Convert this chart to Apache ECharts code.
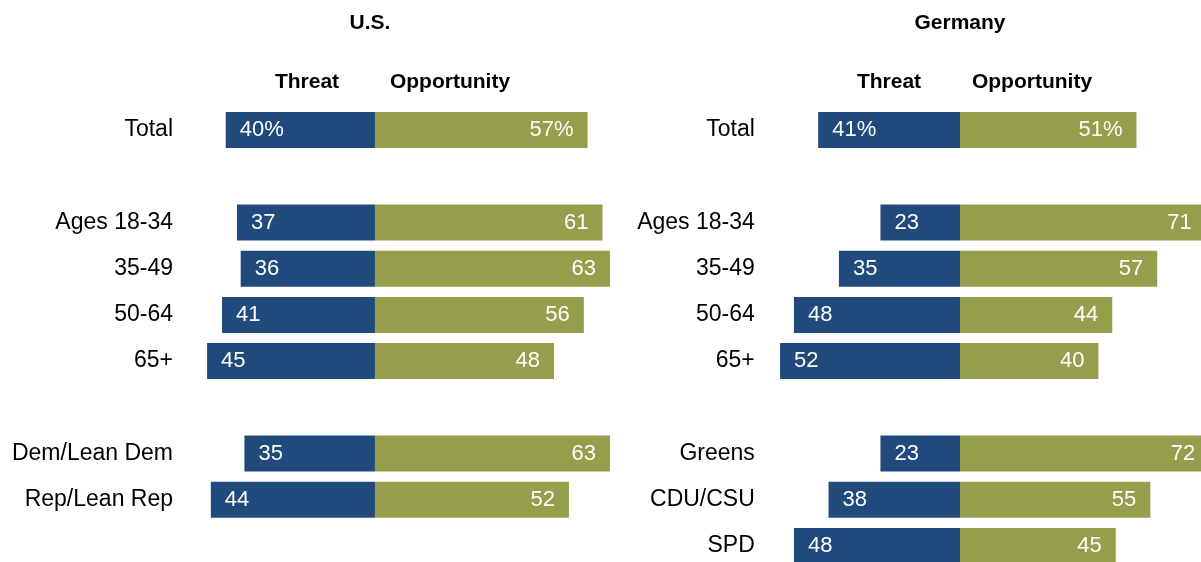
<!DOCTYPE html>
<html>
<head>
<meta charset="utf-8">
<script src="https://cdn.jsdelivr.net/npm/echarts@6/dist/echarts.min.js"></script>
<style>
  html, body { margin: 0; padding: 0; background: #fff; }
  #main { width: 1201px; height: 562px; }
</style>
</head>
<body>
<div id="main"></div>
<script>
// row labels (blank rows are spacers)
var usRows = ['Total', ' ', 'Ages 18-34', '35-49', '50-64', '65+', '  ', 'Dem/Lean Dem', 'Rep/Lean Rep', '   '];
var deRows = ['Total', ' ', 'Ages 18-34', '35-49', '50-64', '65+', '  ', 'Greens', 'CDU/CSU', 'SPD'];

var usThreat = [40, null, 37, 36, 41, 45, null, 35, 44, null];
var usOpportunity = [57, null, 61, 63, 56, 48, null, 63, 52, null];
var deThreat = [41, null, 23, 35, 48, 52, null, 23, 38, 48];
var deOpportunity = [51, null, 71, 57, 44, 40, null, 72, 55, 45];

var BLUE = '#214a7c';
var GREEN = '#949e4b';
var FONT = '"Liberation Sans", Arial, sans-serif';

function neg(arr) {
    return arr.map(function (v) { return v == null ? null : -v; });
}
function fmt(p) {
    var v = Math.abs(p.value);
    return p.dataIndex === 0 ? v + '%' : '' + v;
}

var chart = echarts.init(document.getElementById('main'));

var yAxisBase = {
    type: 'category',
    inverse: true,
    axisLine: { show: false },
    axisTick: { show: false },
    splitLine: { show: false },
    axisLabel: { margin: 8, color: '#000', fontSize: 23, fontFamily: FONT, padding: [3, 0, 0, 0] }
};

function headText(txt, x, y) {
    return {
        type: 'text',
        x: x, y: y,
        style: {
            text: txt,
            textAlign: 'center',
            textVerticalAlign: 'middle',
            fontSize: 21,
            fontWeight: 'bold',
            fontFamily: FONT,
            fill: '#000'
        }
    };
}

var labelBase = { show: true, distance: 14, color: '#fff', fontSize: 22, fontFamily: FONT, formatter: fmt, padding: [2, 0, 0, 0] };

chart.setOption({
    animation: false,
    graphic: [
        headText('U.S.', 370, 23),
        headText('Threat', 307, 82),
        headText('Opportunity', 450, 82),
        headText('Germany', 960, 23),
        headText('Threat', 889, 82),
        headText('Opportunity', 1032, 82)
    ],
    grid: [
        { left: 181, width: 447.6, top: 107, height: 462, containLabel: false, outerBoundsMode: 'none' },
        { left: 762.8, width: 456.7, top: 107, height: 462, containLabel: false, outerBoundsMode: 'none' }
    ],
    xAxis: [
        { type: 'value', gridIndex: 0, min: -52, max: 68, show: false },
        { type: 'value', gridIndex: 1, min: -57, max: 75, show: false }
    ],
    yAxis: [
        Object.assign({ gridIndex: 0, data: usRows }, yAxisBase),
        Object.assign({ gridIndex: 1, data: deRows }, yAxisBase)
    ],
    series: [
        {
            name: 'Threat', type: 'bar', xAxisIndex: 0, yAxisIndex: 0, stack: 'us',
            barWidth: 36, data: neg(usThreat), itemStyle: { color: BLUE },
            label: Object.assign({ position: 'insideLeft' }, labelBase)
        },
        {
            name: 'Opportunity', type: 'bar', xAxisIndex: 0, yAxisIndex: 0, stack: 'us',
            barWidth: 36, data: usOpportunity, itemStyle: { color: GREEN },
            label: Object.assign({ position: 'insideRight' }, labelBase)
        },
        {
            name: 'Threat', type: 'bar', xAxisIndex: 1, yAxisIndex: 1, stack: 'de',
            barWidth: 36, data: neg(deThreat), itemStyle: { color: BLUE },
            label: Object.assign({ position: 'insideLeft' }, labelBase)
        },
        {
            name: 'Opportunity', type: 'bar', xAxisIndex: 1, yAxisIndex: 1, stack: 'de',
            barWidth: 36, data: deOpportunity, itemStyle: { color: GREEN },
            label: Object.assign({ position: 'insideRight' }, labelBase)
        }
    ]
});
</script>
</body>
</html>
